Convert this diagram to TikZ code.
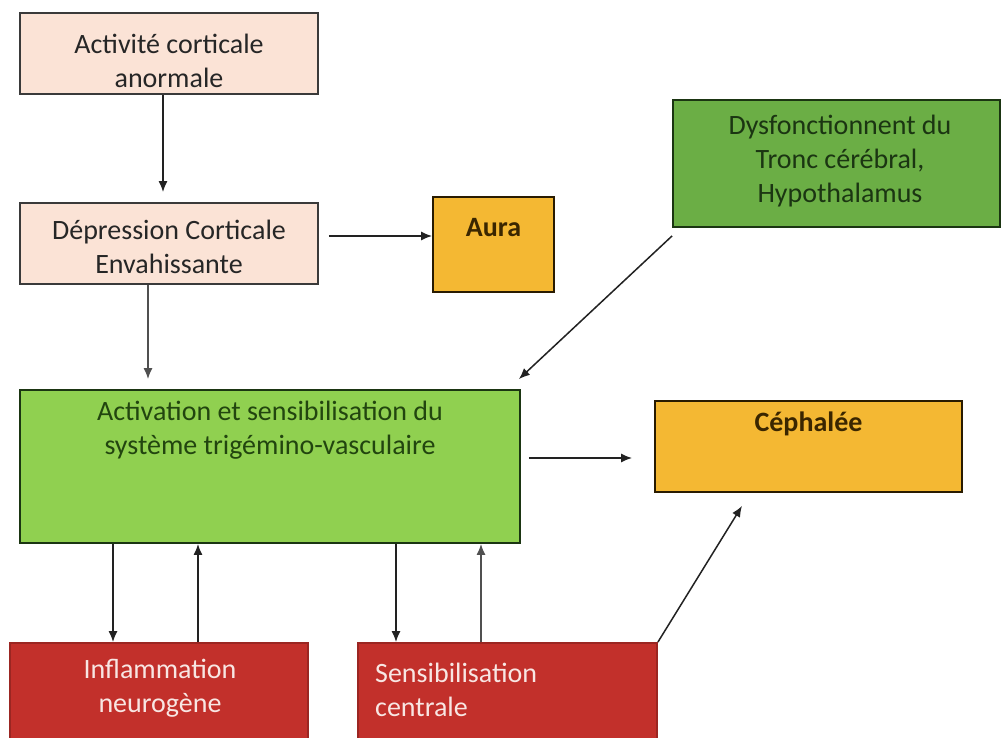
\documentclass[tikz,border=0pt]{standalone}
\usepackage{fontspec}
\setmainfont{Carlito}
\usetikzlibrary{arrows.meta,calc}
\definecolor{peach}{HTML}{FBE3D6}
\definecolor{auraor}{HTML}{F4B833}
\definecolor{dgreen}{HTML}{6BAE45}
\definecolor{lgreen}{HTML}{90D050}
\definecolor{redbox}{HTML}{C2302B}
\definecolor{boxline}{HTML}{3A3A3A}
\definecolor{gtext}{HTML}{1B3512}
\definecolor{ltgtext}{HTML}{22450F}
\definecolor{otext}{HTML}{3A2600}
\definecolor{rtext}{HTML}{F8E6E3}
\definecolor{arrcol}{HTML}{222222}
\definecolor{arrgray}{HTML}{505050}
\begin{document}
\begin{tikzpicture}[x=1pt,y=-1pt,
  box/.style={draw=boxline, line width=1.8pt, inner sep=0pt},
  txt/.style={font=\fontsize{28}{34}\selectfont, align=center, inner sep=0pt},
  arr/.style={-{Latex[length=11pt,width=9pt]}, line width=1.5pt, draw=arrcol},
  garr/.style={arr, draw=arrgray}]
\useasboundingbox (0,0) rectangle (1002,738);
\clip (0,0) rectangle (1002,738);
\fill[white] (0,0) rectangle (1002,738);
% boxes
\node[box, fill=peach, minimum width=298pt, minimum height=81pt] (a) at (169,53.5) {};
\node[box, fill=peach, minimum width=298pt, minimum height=81pt] (b) at (169,243.5) {};
\node[box, draw=otext!70!black, fill=auraor, minimum width=121pt, minimum height=95pt] (aura) at (493.5,244.5) {};
\node[box, draw=gtext, fill=dgreen, minimum width=327pt, minimum height=127pt] (dys) at (836.5,163.5) {};
\node[box, draw=gtext, fill=lgreen, minimum width=500pt, minimum height=153pt] (act) at (270,466.5) {};
\node[box, draw=otext!70!black, fill=auraor, minimum width=307pt, minimum height=91pt] (ceph) at (808.5,446.5) {};
\node[box, draw=redbox!80!black, fill=redbox, minimum width=298pt, minimum height=130pt] (infl) at (159,708) {};
\node[box, draw=redbox!80!black, fill=redbox, minimum width=299pt, minimum height=130pt] (sens) at (507.5,708) {};
% texts
\node[txt, text=black!85] (ta) at (169,61) {Activité corticale\\anormale};
\node[txt, text=black!85] (tb) at (169,247) {Dépression Corticale\\Envahissante};
\node[txt, text=otext, font=\fontsize{28}{34}\selectfont\bfseries] (taura) at (493.5,228) {Aura};
\node[txt, text=gtext] (tdys) at (840,161) {Dysfonctionnent du\\Tronc cérébral,\\Hypothalamus};
\node[txt, text=ltgtext] (tact) at (270,430) {Activation et sensibilisation du\\système trigémino-vasculaire};
\node[txt, text=otext, font=\fontsize{28}{34}\selectfont\bfseries] (tceph) at (808.5,424) {Céphalée};
\node[txt, text=rtext] (tinfl) at (160,688) {Inflammation\\neurogène};
\node[txt, text=rtext, align=left, anchor=west] (tsens) at (375,690) {Sensibilisation\\centrale};
% connectors
\draw[arr] ($(a.south)+(-6,0)$) -- ($(b.north)+(-6,-10)$);
\draw[arr] ($(b.east)+(10,-7.5)$) -- ($(aura.west)+(0,-8.5)$);
\draw[garr] ($(b.south)+(-21,0)$) -- ($(act.north)+(-122,-10)$);
\draw[arr] ($(dys.south west)+(0,8)$) -- ($(act.north east)+(-2,-10)$);
\draw[arr] ($(act.east)+(8,-8.5)$) -- ($(ceph.west)+(-22,11.5)$);
\draw[arr] ($(act.south)+(-157,0)$) -- ($(infl.north)+(-46,0)$);
\draw[arr] ($(infl.north)+(39,0)$) -- ($(act.south)+(-72,0)$);
\draw[arr] ($(act.south)+(126,0)$) -- ($(sens.north)+(-111.5,0)$);
\draw[garr] ($(sens.north)+(-26.5,0)$) -- ($(act.south)+(211,0)$);
\draw[arr] (sens.north east) -- ($(ceph.south)+(-66.5,13)$);
\end{tikzpicture}
\end{document}
